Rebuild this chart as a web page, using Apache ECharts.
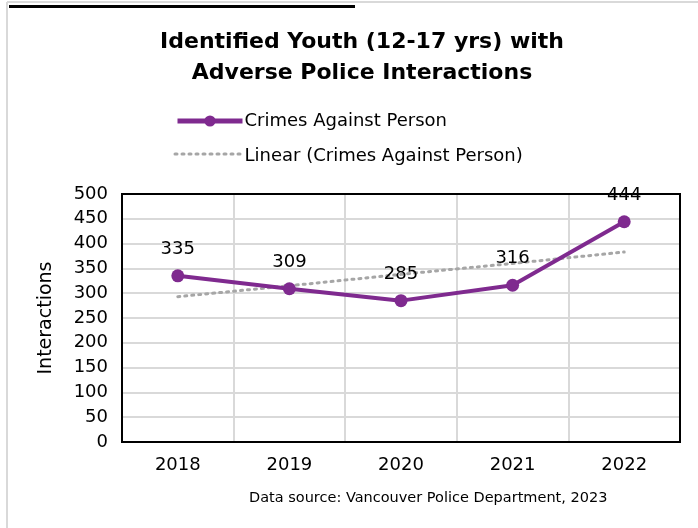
<!DOCTYPE html>
<html>
<head>
<meta charset="utf-8">
<script src="https://cdn.jsdelivr.net/npm/echarts@6/dist/echarts.min.js"></script>
<style>
html,body{margin:0;padding:0;background:#fff;}
#c{width:698px;height:528px;}
</style>
</head>
<body>
<div id="c"></div>
<script>
const years = ['2018', '2019', '2020', '2021', '2022'];
const crimesAgainstPerson = [335, 309, 285, 316, 444];
const linearTrend = [293, 315, 338, 360, 383];
const yTicks = [0, 50, 100, 150, 200, 250, 300, 350, 400, 450, 500];

const FONT = '"DejaVu Sans", sans-serif';
const PURPLE = '#7f2a8f';
const GRID = {left: 122, top: 194, width: 558, height: 248};
const chart = echarts.init(document.getElementById('c'), null, {renderer: 'canvas'});
chart.setOption({
  backgroundColor: '#fff',
  animation: false,
  textStyle: {fontFamily: FONT},
  title: {
    text: 'Identified Youth (12-17 yrs) with\nAdverse Police Interactions',
    left: 357, top: 22, textAlign: 'center',
    textStyle: {fontFamily: FONT, fontSize: 22, fontWeight: 'bold', color: '#000', lineHeight: 31}
  },
  legend: {
    orient: 'vertical', left: 170, top: 107,
    itemWidth: 65, itemHeight: 14, itemGap: 17,
    textStyle: {fontFamily: FONT, fontSize: 18, color: '#000', padding: [0, 0, 0, -3]},
    data: [
      {name: 'Crimes Against Person', lineStyle: {width: 5, color: PURPLE}},
      {name: 'Linear (Crimes Against Person)', icon: 'none'}
    ]
  },
  grid: {left: GRID.left, top: GRID.top, width: GRID.width, height: GRID.height, show: false, containLabel: false},
  xAxis: {
    type: 'category', data: years, boundaryGap: true,
    axisLine: {show: false},
    axisTick: {show: false},
    axisLabel: {fontFamily: FONT, fontSize: 18, color: '#000', margin: 14},
    splitLine: {show: true, lineStyle: {color: '#d9d9d9', width: 2}}
  },
  yAxis: {
    type: 'value', min: yTicks[0], max: yTicks[yTicks.length - 1], interval: 50,
    name: 'Interactions', nameLocation: 'middle', nameGap: 66, nameRotate: 90,
    nameTextStyle: {fontFamily: FONT, fontSize: 19, color: '#000'},
    axisLine: {show: false},
    axisTick: {show: false},
    axisLabel: {fontFamily: FONT, fontSize: 18, color: '#000', margin: 14},
    splitLine: {show: true, lineStyle: {color: '#d9d9d9', width: 2}}
  },
  series: [
    {
      name: 'Crimes Against Person', type: 'line', data: crimesAgainstPerson,
      symbol: 'circle', symbolSize: 13, z: 3,
      lineStyle: {color: PURPLE, width: 4},
      itemStyle: {color: PURPLE},
      label: {show: true, position: 'top', distance: 11, fontFamily: FONT, fontSize: 18, color: '#000'}
    },
    {
      name: 'Linear (Crimes Against Person)', type: 'line', data: linearTrend,
      symbol: 'none', z: 2,
      lineStyle: {color: '#a6a6a6', width: 3, type: [2, 5], cap: 'round'},
      itemStyle: {color: '#a6a6a6'}
    }
  ],
  graphic: [
    {type: 'line', shape: {x1: 7, y1: 2, x2: 698, y2: 2}, style: {stroke: '#d9d9d9', lineWidth: 2}},
    {type: 'line', shape: {x1: 7, y1: 2, x2: 7, y2: 528}, style: {stroke: '#d9d9d9', lineWidth: 2}},
    {type: 'line', shape: {x1: 9, y1: 6.5, x2: 355, y2: 6.5}, style: {stroke: '#000', lineWidth: 3}},
    {type: 'rect', z: 1, shape: {x: GRID.left, y: GRID.top, width: GRID.width, height: GRID.height}, style: {fill: 'none', stroke: '#000', lineWidth: 2}},
    {type: 'line', shape: {x1: 175, y1: 154, x2: 240, y2: 154}, style: {stroke: '#a6a6a6', lineWidth: 3, lineDash: [2, 5], lineCap: 'round'}},
    {type: 'text', left: 249, top: 491, style: {text: 'Data source: Vancouver Police Department, 2023', font: '14.5px ' + FONT, fill: '#000'}}
  ]
});
</script>
</body>
</html>
